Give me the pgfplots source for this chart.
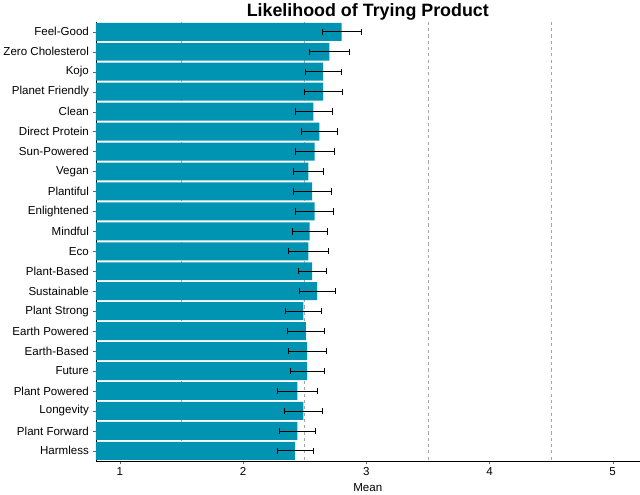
\documentclass[border=0pt]{standalone}
\usepackage{pgfplots}
\pgfplotsset{compat=1.18}
\usepackage{fontspec}
\setmainfont{Liberation Sans}
\definecolor{bar}{HTML}{0093B2}
\begin{document}
\begin{tikzpicture}
\begin{axis}[
  scale only axis, width=518pt, height=418pt,
  xmin=0.804, xmax=5.22, ymin=0.5, ymax=22.5, y dir=reverse,
  axis x line*=bottom, axis y line*=left,
  xtick={1,2,3,4,5}, ytick={1,...,22},
  yticklabels={Feel-Good,Zero Cholesterol,Kojo,Planet Friendly,Clean,Direct Protein,Sun-Powered,Vegan,Plantiful,Enlightened,Mindful,Eco,Plant-Based,Sustainable,Plant Strong,Earth Powered,Earth-Based,Future,Plant Powered,Longevity,Plant Forward,Harmless},
  tick style={black!60}, tick align=outside, major tick length=3pt,
  ticklabel style={font=\fontsize{11}{13}\selectfont},
  /pgf/number format/assume math mode=true,
  xlabel={Mean}, xlabel style={font=\fontsize{11}{13}\selectfont},
  title={\textbf{Likelihood of Trying Product}}, title style={font=\fontsize{17}{19}\selectfont, yshift=-8pt},
  clip=true,
]
\foreach \v in {1.5,2.5,3.5,4.5}{\edef\tmp{\noexpand\draw[black!35, dashed] (axis cs:\v,0.5)--(axis cs:\v,22.5);}\tmp}
\addplot[xbar, bar width=0.9, fill=bar, draw=none, forget plot] coordinates {
(2.80,1)(2.70,2)(2.65,3)(2.65,4)(2.57,5)(2.62,6)(2.58,7)(2.53,8)(2.56,9)(2.58,10)(2.54,11)
(2.53,12)(2.56,13)(2.60,14)(2.49,15)(2.51,16)(2.52,17)(2.52,18)(2.44,19)(2.49,20)(2.44,21)(2.42,22)};
\addplot[draw=none, mark=none, black, error bars/.cd, x dir=both, x explicit, error bar style={line width=0.7pt}, error mark options={rotate=90, mark size=3pt}] coordinates {
(2.80,1) +- (0.155,0)
(2.70,2) +- (0.16,0)
(2.65,3) +- (0.145,0)
(2.65,4) +- (0.155,0)
(2.57,5) +- (0.15,0)
(2.62,6) +- (0.145,0)
(2.58,7) +- (0.16,0)
(2.53,8) +- (0.12,0)
(2.56,9) +- (0.155,0)
(2.58,10) +- (0.155,0)
(2.54,11) +- (0.145,0)
(2.53,12) +- (0.16,0)
(2.56,13) +- (0.115,0)
(2.60,14) +- (0.145,0)
(2.49,15) +- (0.145,0)
(2.51,16) +- (0.15,0)
(2.52,17) +- (0.155,0)
(2.52,18) +- (0.14,0)
(2.44,19) +- (0.16,0)
(2.49,20) +- (0.155,0)
(2.44,21) +- (0.145,0)
(2.42,22) +- (0.145,0)};
\end{axis}
\end{tikzpicture}
\end{document}
